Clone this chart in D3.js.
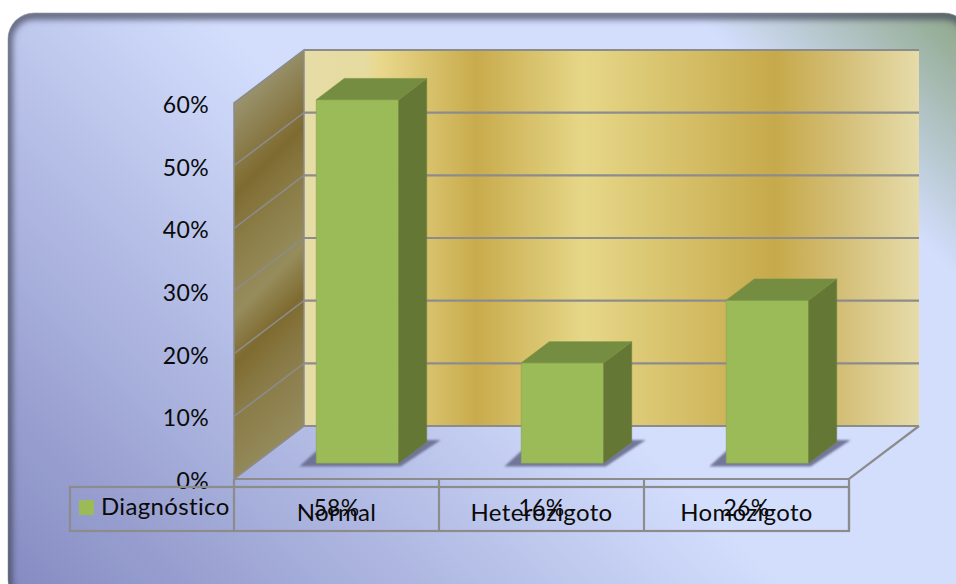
<!DOCTYPE html>
<html><head><meta charset="utf-8">
<script src="https://cdn.jsdelivr.net/npm/d3@7"></script>
<style>html,body{margin:0;padding:0;background:#fff}svg{display:block}text{font-family:Lato,sans-serif;font-size:24px;fill:#0a0a0a;font-variant-ligatures:none;letter-spacing:.35px}</style>
</head><body><svg id="c" width="956" height="584"></svg>
<script>
const categories = ["Normal", "Heterozigoto", "Homozigoto"];
const seriesName = "Diagnóstico";
const values = [0.58, 0.16, 0.26];
const valueLabels = ["58%", "16%", "26%"];
const yTicks = [0, 0.1, 0.2, 0.3, 0.4, 0.5, 0.6];

const panelBg = [[0,"#868cc2"],[0.513,"#d3defd"],[0.833,"#d3defd"],[1,"#92aa90"]];
const backStops = [[0,"#e6dca6"],[0.1,"#e6dba0"],[0.125,"#e9d88c"],[0.28,"#c8ab4c"],[0.455,"#e6d788"],[0.765,"#c6a94a"],[0.875,"#d4bf78"],[1,"#e6dcaa"]];
const wallStops = [[0,"#9a9470"],[0.21,"#7f6b30"],[0.32,"#8a7c45"],[0.48,"#968c5c"],[0.59,"#7f6b30"],[0.71,"#8a7c48"],[0.89,"#958b5c"],[1,"#96906a"]];

const svg = d3.select("#c");
const defs = svg.append("defs");
function grad(id, stops, x1, y1, x2, y2){
  const g = defs.append("linearGradient").attr("id", id).attr("gradientUnits","userSpaceOnUse")
    .attr("x1",x1).attr("y1",y1).attr("x2",x2).attr("y2",y2);
  stops.forEach(s => g.append("stop").attr("offset", s[0]).attr("stop-color", s[1]));
}
grad("bg", panelBg, -285, 285, 465, -465);
grad("back", backStops, 303.5, 0, 920, 0);
grad("wall", wallStops, 168, 168, 390, 390);
defs.append("filter").attr("id","b3").attr("x","-5%").attr("y","-5%").attr("width","110%").attr("height","110%")
  .append("feGaussianBlur").attr("stdDeviation",3);
defs.append("filter").attr("id","b1").attr("x","-30%").attr("y","-100%").attr("width","160%").attr("height","300%")
  .append("feGaussianBlur").attr("stdDeviation",1.3);
const panel = {x:8,y:13,w:962,h:592,r:26};
defs.append("clipPath").attr("id","pc").append("rect")
  .attr("x",panel.x).attr("y",panel.y).attr("width",panel.w).attr("height",panel.h).attr("rx",panel.r);

// frame
svg.append("rect").attr("x",panel.x).attr("y",panel.y).attr("width",panel.w).attr("height",panel.h)
  .attr("rx",panel.r).attr("fill","url(#bg)");
svg.append("g").attr("clip-path","url(#pc)").append("rect")
  .attr("x",panel.x).attr("y",panel.y+2).attr("width",panel.w).attr("height",panel.h)
  .attr("rx",panel.r).attr("fill","none").attr("stroke","#40445a").attr("stroke-opacity",.75).attr("stroke-width",9)
  .attr("filter","url(#b3)");
svg.append("rect").attr("x",panel.x).attr("y",panel.y).attr("width",panel.w).attr("height",panel.h)
  .attr("rx",panel.r).attr("fill","none").attr("stroke","#8a8a8a").attr("stroke-opacity",0.5).attr("stroke-width",1);

// scales
const x = d3.scaleBand().domain(categories).range([234, 849]);
const y = d3.scaleLinear().domain([0, 0.6]).range([479, 103]);
const depth = {dx:70, dy:-53};
const px = (vx, t) => vx + depth.dx * t;
const py = (v, t) => y(v) + depth.dy * t;
const poly = pts => pts.map(p => p.join(",")).join(" ");
const grid = "#8c8c8c";
const xL = x.range()[0], xR = x.range()[1], yMax = d3.max(yTicks);

// walls
svg.append("polygon").attr("fill","url(#back)")
  .attr("points", poly([[px(xL,1),py(yMax,1)],[px(xR,1),py(yMax,1)],[px(xR,1),py(0,1)],[px(xL,1),py(0,1)]]));
svg.append("polygon").attr("fill","url(#wall)").attr("stroke",grid).attr("stroke-width",1.5)
  .attr("points", poly([[px(xL,0),py(yMax,0)],[px(xL,1),py(yMax,1)],[px(xL,1),py(0,1)],[px(xL,0),py(0,0)]]));

// gridlines: thin on the side wall, heavier on the back wall
const gg = svg.append("g").attr("fill","none").attr("stroke",grid);
gg.selectAll("path.w").data(yTicks).join("path").attr("class","w").attr("stroke-width",1.5)
  .attr("d", d => d3.line()([[px(xL,0),py(d,0)],[px(xL,1),py(d,1)]]));
gg.selectAll("path.g").data(yTicks).join("path").attr("class","g").attr("stroke-width",2.2)
  .attr("d", d => d3.line()([[px(xL,1),py(d,1)],[px(xR,1),py(d,1)]]));
// floor
gg.append("path").attr("stroke-width",2.2).attr("d", d3.line()([[px(xL,0),py(0,0)],[px(xR,0),py(0,0)],[px(xR,1),py(0,1)]]));

// bars
const t0 = 0.3, t1 = 0.7, bw = x.bandwidth() * 0.402;
const bars = svg.append("g").selectAll("g").data(values).join("g");
const bx = (d,i) => x(categories[i]) + (x.bandwidth() - bw) / 2;
bars.append("polygon").attr("fill","#686d8e").attr("fill-opacity",0.9).attr("filter","url(#b1)")
  .attr("points",(d,i)=>{const a=px(bx(d,i),t0),b=a+bw,yy=py(0,t0);
    return poly([[a-17,yy+3.5],[b+2,yy+3.5],[b+42,yy-23],[b+14,yy-23],[a,yy-12]]);});
bars.append("polygon").attr("fill","#9bbb59").attr("stroke","#8faa55").attr("stroke-width",0.8)
  .attr("points",(d,i)=>{const a=px(bx(d,i),t0);
    return poly([[a,py(d,t0)],[a+bw,py(d,t0)],[a+bw,py(0,t0)],[a,py(0,t0)]]);});
bars.append("polygon").attr("fill","#647735").attr("stroke","#6d8040").attr("stroke-width",0.6)
  .attr("points",(d,i)=>{const a=px(bx(d,i),t0)+bw,s=depth.dx*(t1-t0),h=depth.dy*(t1-t0);
    return poly([[a,py(d,t0)],[a+s,py(d,t0)+h],[a+s,py(0,t0)+h],[a,py(0,t0)]]);});
bars.append("polygon").attr("fill","#748d40").attr("stroke","#7a9347").attr("stroke-width",0.6)
  .attr("points",(d,i)=>{const a=px(bx(d,i),t0),s=depth.dx*(t1-t0),h=depth.dy*(t1-t0);
    return poly([[a,py(d,t0)],[a+bw,py(d,t0)],[a+bw+s,py(d,t0)+h],[a+s,py(d,t0)+h]]);});

// value axis
const ya = svg.append("g").attr("transform","translate(234,2)")
  .call(d3.axisLeft(y).tickValues(yTicks).tickFormat(d3.format(".0%")).tickSize(0).tickPadding(25));
ya.select(".domain").remove();
ya.selectAll("text").style("font-family","Lato,sans-serif").style("font-size","23px");

// data table
const tableTop = 487, tableBottom = 531, tableLeft = 70;
const xa = svg.append("g").attr("transform","translate(0,504)")
  .call(d3.axisBottom(x).tickSize(0).tickPadding(0));
xa.select(".domain").remove();
xa.selectAll("text").style("font-family","Lato,sans-serif").style("font-size","24px");
svg.append("g").selectAll("text").data(valueLabels).join("text")
  .attr("x",(d,i)=>x(categories[i])+x.bandwidth()/2).attr("y",516).attr("text-anchor","middle").style("font-size","23px").text(d=>d);
svg.append("rect").attr("x",79).attr("y",500).attr("width",15).attr("height",15).attr("fill","#9bbb59");
svg.append("text").attr("x",101).attr("y",515).text(seriesName);
const tg = svg.append("g").attr("fill","none").attr("stroke",grid).attr("stroke-width",2.2);
tg.append("rect").attr("x",tableLeft).attr("y",tableTop).attr("width",xR-tableLeft).attr("height",tableBottom-tableTop);
tg.selectAll("line").data([xL].concat(categories.map(c=>x(c)+x.bandwidth()))).join("line")
  .attr("x1",d=>d).attr("x2",d=>d).attr("y1",y(0)).attr("y2",tableBottom);
</script></body></html>
